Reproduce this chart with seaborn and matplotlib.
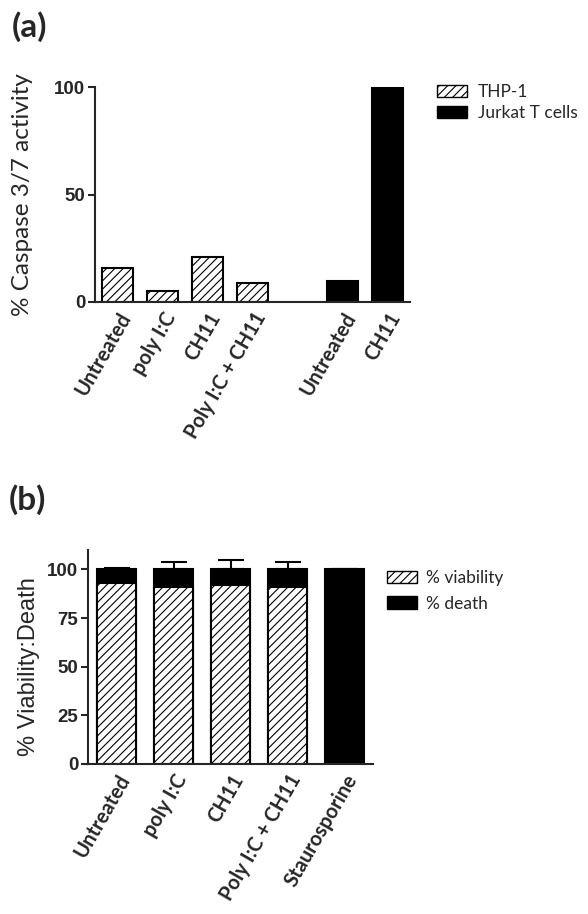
import matplotlib
matplotlib.use("Agg")
import numpy as np
import pandas as pd
import matplotlib.pyplot as plt
import matplotlib.patches as mpatches
import seaborn as sns

sns.set_theme(style="ticks")
plt.rcParams["font.family"] = ["Liberation Sans", "DejaVu Sans"]
plt.rcParams["hatch.linewidth"] = 0.8
plt.rcParams["axes.linewidth"] = 1.5

# ---- data, panel (a) ----
a_labels = ["Untreated", "poly I:C", "CH11", "Poly I:C + CH11", "Untreated", "CH11"]
a_cells = ["THP-1", "THP-1", "THP-1", "THP-1", "Jurkat T cells", "Jurkat T cells"]
a_values = [16, 5, 21, 9, 10, 100]

# ---- data, panel (b) ----
b_labels = ["Untreated", "poly I:C", "CH11", "Poly I:C + CH11", "Staurosporine"]
b_viability = [93, 91, 92, 91, 0]
b_death = [7, 9, 8, 9, 100]
b_err = [1, 4, 5, 4, 0]

HATCH = "////"
CAT_FONT = dict(family="Lato", fontweight="bold", fontsize=14.5)
W, H = 588, 914

fig = plt.figure(figsize=(W / 100, H / 100), dpi=100)


def style_axis(ax):
    sns.despine(ax=ax)
    ax.tick_params(axis="y", length=5, width=1.5, labelsize=13.5, pad=2)
    ax.tick_params(axis="x", length=0, pad=5)
    for t in ax.get_yticklabels():
        t.set_fontweight("bold")
    ax.set_xlabel("")
    ax.set_ylabel("")


# ---------------- panel (a) ----------------
ax_a = fig.add_axes([95 / W, 1 - 302 / H, (410 - 95) / W, (302 - 87) / H])
df_a = pd.DataFrame({
    "key": [f"{c}|{l}" for c, l in zip(a_cells, a_labels)],
    "cell": a_cells,
    "value": a_values,
})
order_a = list(df_a["key"][:4]) + ["gap"] + list(df_a["key"][4:])
sns.barplot(data=df_a, x="key", y="value", hue="cell", order=order_a,
            palette={"THP-1": "white", "Jurkat T cells": "black"},
            dodge=False, width=0.67, edgecolor="black", linewidth=1.5,
            errorbar=None, legend=False, ax=ax_a)
for p in ax_a.patches:
    if tuple(p.get_facecolor()[:3]) == (1.0, 1.0, 1.0):
        p.set_hatch(HATCH)
ax_a.set_ylim(0, 100)
ax_a.set_xlim(-0.5, 6.5)
ax_a.set_yticks([0, 50, 100])
ax_a.set_xticks(range(7))
ax_a.set_xticklabels(a_labels[:4] + [""] + a_labels[4:], rotation=60,
                     ha="right", rotation_mode="anchor", **CAT_FONT)
style_axis(ax_a)

fig.text(23 / W, 1 - 195 / H, "% Caspase 3/7 activity", rotation=90,
         ha="center", va="center", fontsize=17.5, family="Lato")
fig.text(12 / W, 1 - 11 / H, "(a)", ha="left", va="top",
         fontsize=24, fontweight="bold", family="Lato")

handles_a = [mpatches.Patch(facecolor="white", edgecolor="black", hatch=HATCH),
             mpatches.Patch(facecolor="black", edgecolor="black")]
fig.legend(handles_a, ["THP-1", "Jurkat T cells"], loc="upper left",
           bbox_to_anchor=(437 / W, 1 - 84 / H), frameon=False,
           prop={"family": "Lato", "size": 12.5}, handlelength=1.75,
           handleheight=0.7, handletextpad=0.6, labelspacing=0.3,
           borderpad=0, borderaxespad=0)

# ---------------- panel (b) ----------------
ax_b = fig.add_axes([88 / W, 1 - 764 / H, (373 - 88) / W, (764 - 550) / H])
df_b = pd.DataFrame({
    "treatment": b_labels,
    "viability": b_viability,
    "death": b_death,
})
df_b["total"] = df_b["viability"] + df_b["death"]
sns.barplot(data=df_b, x="treatment", y="total", color="black",
            width=0.67, edgecolor="black", linewidth=1.5, errorbar=None, ax=ax_b)
sns.barplot(data=df_b, x="treatment", y="viability", color="white", hatch=HATCH,
            width=0.67, edgecolor="black", linewidth=1.5, errorbar=None, ax=ax_b)
ax_b.errorbar(np.arange(len(b_labels)), df_b["total"],
              yerr=[np.zeros(len(b_err)), b_err], fmt="none", ecolor="black",
              elinewidth=1.5, capsize=9.5, capthick=1.5)
ax_b.set_ylim(0, 110)
ax_b.set_xlim(-0.5, 4.5)
ax_b.set_yticks([0, 25, 50, 75, 100])
ax_b.set_xticks(range(5))
ax_b.set_xticklabels(b_labels, rotation=60, ha="right",
                     rotation_mode="anchor", **CAT_FONT)
style_axis(ax_b)

fig.text(29 / W, 1 - 667 / H, "% Viability:Death", rotation=90,
         ha="center", va="center", fontsize=17)
fig.text(9 / W, 1 - 484 / H, "(b)", ha="left", va="top",
         fontsize=24, fontweight="bold", family="Lato")

handles_b = [mpatches.Patch(facecolor="white", edgecolor="black", hatch=HATCH),
             mpatches.Patch(facecolor="black", edgecolor="black")]
fig.legend(handles_b, ["% viability", "% death"], loc="upper left",
           bbox_to_anchor=(387 / W, 1 - 570 / H), frameon=False,
           prop={"family": "Lato", "size": 12.5}, handlelength=1.75,
           handleheight=0.7, handletextpad=0.5, labelspacing=0.55,
           borderpad=0, borderaxespad=0)

fig.savefig("out.png", dpi=100)
